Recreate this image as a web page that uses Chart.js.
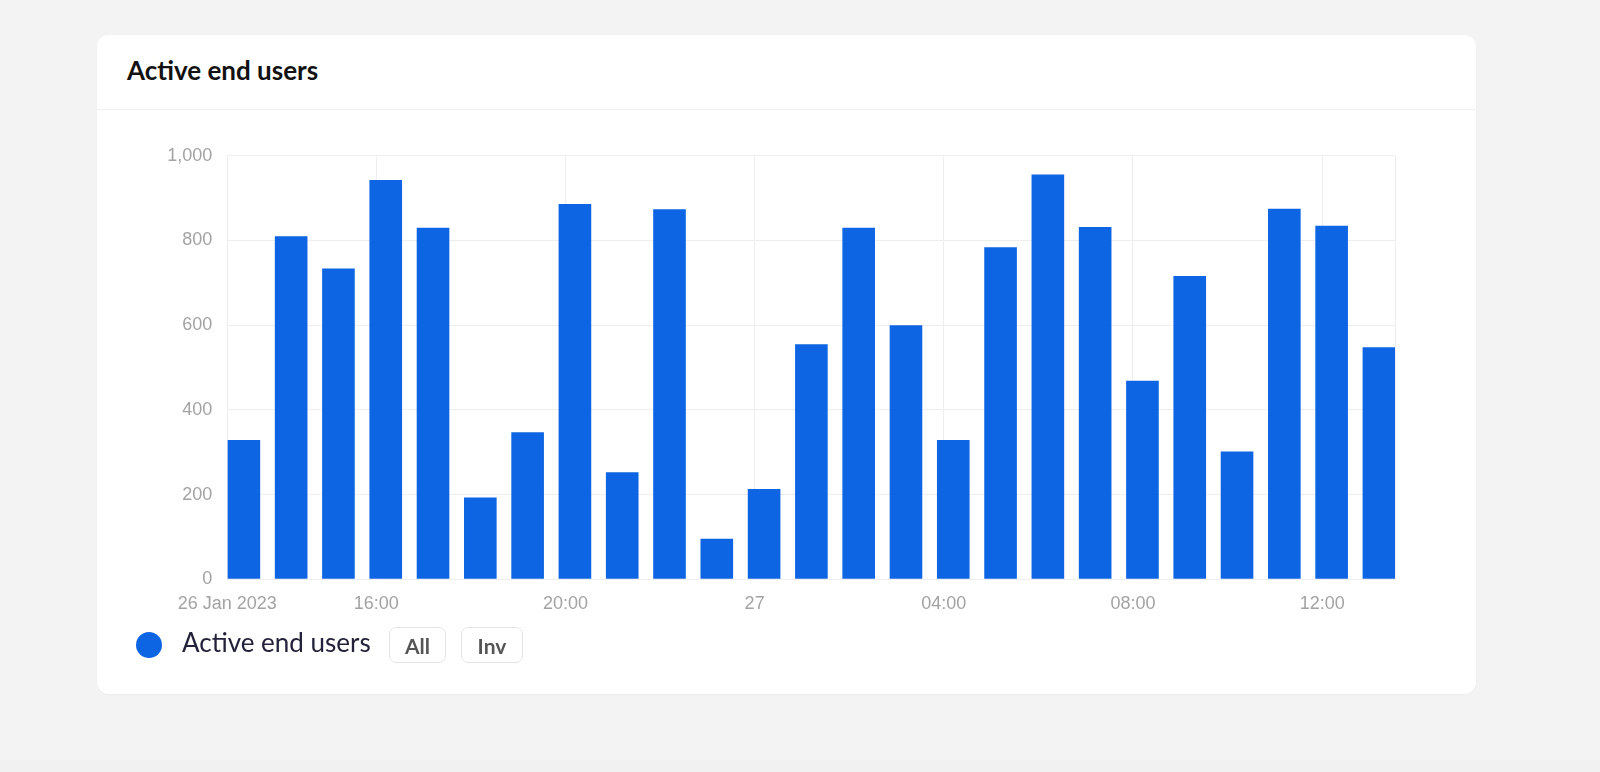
<!DOCTYPE html>
<html>
<head>
<meta charset="utf-8">
<script src="https://cdn.jsdelivr.net/npm/chart.js@4.4.1/dist/chart.umd.min.js"></script>
<style>
  html, body { margin: 0; padding: 0; }
  body { width: 1600px; height: 772px; background: #f3f3f3; position: relative; overflow: hidden; font-family: Lato, "Noto Sans", sans-serif; }
  .card { position: absolute; left: 97px; top: 35px; width: 1379px; height: 659px; background: #fff; border-radius: 12px; box-shadow: 0 1px 2px rgba(0,0,0,0.03); }
  .card-head { position: absolute; left: 0; top: 0; width: 100%; height: 74px; border-bottom: 1px solid #f0f0f0; }
  .title { position: absolute; left: 127px; top: 57px; font-size: 26px; line-height: 26px; font-weight: 700; color: #121212; white-space: nowrap; }
  #chartBox { position: absolute; left: 150px; top: 130px; width: 1270px; height: 500px; }
  .dot { position: absolute; left: 136px; top: 632px; width: 26px; height: 26px; border-radius: 50%; }
  .legend-text { position: absolute; left: 182px; top: 629px; font-size: 26px; line-height: 26px; color: #22223a; white-space: nowrap; }
  .btn { position: absolute; top: 627px; height: 34px; border: 1px solid #e4e4e4; border-radius: 7px; box-sizing: content-box; display: flex; align-items: center; justify-content: center; font-size: 21px; font-weight: 700; color: #555; background: #fff; }
  .strip { position: absolute; left: 0; top: 760px; width: 1600px; height: 12px; background: #f1f1f1; }
</style>
</head>
<body>
<div class="card"><div class="card-head"></div></div>
<div class="title">Active end users</div>
<div id="chartBox"><canvas id="usersChart"></canvas></div>
<div class="dot" id="legendDot"></div>
<div class="legend-text" id="legendText"></div>
<div class="btn" style="left:389px;width:55px;">All</div>
<div class="btn" style="left:461px;width:60px;">Inv</div>
<div class="strip"></div>

<script>
// DATA
const seriesLabel = 'Active end users';
const barColor = '#0e65e3';

// hours since 26 Jan 2023 00:00
const hours = [
  13.2, 14.2, 15.2, 16.2, 17.2, 18.2, 19.2, 20.2, 21.2, 22.2, 23.2, 24.2, 25.2,
  26.2, 27.2, 28.2, 29.2, 30.2, 31.2, 32.2, 33.2, 34.2, 35.2, 36.2, 37.2
];
const users = [
  329, 810, 734, 943, 830, 193, 347, 886, 253, 874, 96, 213, 555,
  830, 600, 329, 784, 956, 832, 469, 716, 302, 875, 835, 548
];

// x tick positions (hours) and their labels
const tickHours = [12.85, 16, 20, 24, 28, 32, 36, 37.54];
const tickLabels = ['26 Jan 2023', '16:00', '20:00', '27', '04:00', '08:00', '12:00', ''];
const yTicks = [0, 200, 400, 600, 800, 1000];

// LEGEND
document.getElementById('legendDot').style.background = barColor;
document.getElementById('legendText').textContent = seriesLabel;

// CHART
const gridColor = '#eeeeee';
const tickFont = { family: '"Liberation Sans", Arial, sans-serif', size: 18 };

let ctx = document.getElementById('usersChart').getContext('2d');
let usersChart = new Chart(ctx, {
  type: 'bar',
  data: {
    datasets: [{
      label: seriesLabel,
      data: hours.map((h, i) => ({ x: h, y: users[i] })),
      backgroundColor: barColor,
      borderWidth: 0,
      categoryPercentage: 1,
      barPercentage: 0.69
    }]
  },
  options: {
    responsive: true,
    maintainAspectRatio: false,
    animation: false,
    layout: { padding: { top: 24, right: 25, bottom: 0, left: 0 } },
    plugins: {
      legend: { display: false },
      tooltip: { enabled: false }
    },
    scales: {
      x: {
        type: 'linear',
        min: tickHours[0],
        max: tickHours[tickHours.length - 1],
        offset: false,
        grid: { color: gridColor, drawTicks: false, offset: false },
        border: { color: gridColor },
        afterBuildTicks: (scale) => { scale.ticks = tickHours.map(v => ({ value: v })); },
        afterFit: (scale) => { scale.height = 50.7; },
        ticks: {
          color: '#a3a3a3',
          font: tickFont,
          padding: 14,
          maxRotation: 0,
          autoSkip: false,
          callback: (value, index) => tickLabels[index]
        }
      },
      y: {
        min: 0,
        max: 1000,
        grid: { color: gridColor, drawTicks: false },
        border: { display: false },
        afterBuildTicks: (scale) => { scale.ticks = yTicks.map(v => ({ value: v })); },
        afterFit: (scale) => { scale.width = 77.3; },
        ticks: {
          color: '#a3a3a3',
          font: tickFont,
          padding: 15,
          callback: (value) => value.toLocaleString('en-US')
        }
      }
    }
  }
});
</script>
</body>
</html>
